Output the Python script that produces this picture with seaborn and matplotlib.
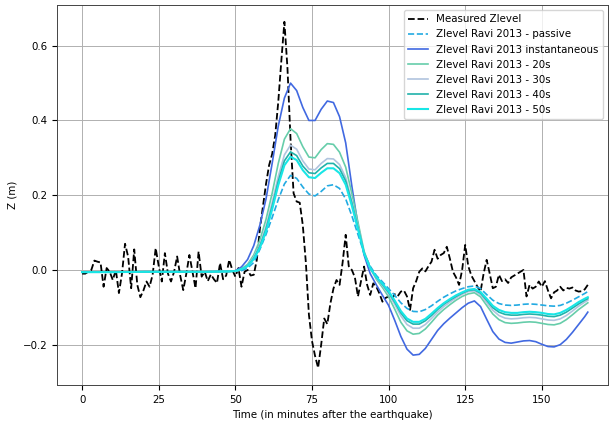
import matplotlib.pyplot as plt
import numpy as np
import seaborn as sns

plt.rcParams['font.size'] = 7.4

# measured tide gauge, 1 minute steps from 0 to 165
t_measured = np.arange(0, 166)
z_measured = [
    -0.010, -0.010, -0.005, 0.000, 0.025, 0.022, 0.020, -0.045, 0.005, -0.005,
    -0.027, 0.000, -0.062, -0.010, 0.070, 0.036, -0.049, 0.055, -0.040, -0.073,
    -0.055, -0.031, -0.045, -0.013, 0.058, 0.010, -0.031, 0.045, -0.010, -0.031,
    -0.005, 0.036, -0.015, -0.054, -0.010, 0.040, -0.005, -0.049, 0.049, -0.018,
    -0.005, -0.030, -0.012, -0.025, -0.035, 0.018, -0.025, -0.015, 0.027, 0.000,
    -0.018, 0.005, -0.045, -0.005, 0.000, -0.015, -0.013, 0.027, 0.110, 0.170,
    0.230, 0.280, 0.310, 0.360, 0.450, 0.560, 0.664, 0.540, 0.350, 0.205,
    0.183, 0.180, 0.120, 0.020, -0.120, -0.190, -0.230, -0.262, -0.200, -0.130,
    -0.145, -0.090, -0.050, -0.027, -0.040, 0.020, 0.094, 0.010, 0.000, -0.020,
    -0.071, -0.030, 0.009, -0.040, -0.067, -0.036, -0.045, -0.063, -0.085, -0.075,
    -0.071, -0.080, -0.065, -0.070, -0.058, -0.055, -0.071, -0.107, -0.049, -0.030,
    -0.005, 0.004, -0.004, 0.010, 0.022, 0.054, 0.030, 0.040, 0.045, 0.062,
    0.030, -0.005, -0.020, -0.040, 0.000, 0.067, 0.010, -0.015, -0.030, -0.045,
    -0.058, -0.010, 0.027, -0.010, -0.049, -0.045, -0.013, -0.030, -0.025, -0.035,
    -0.020, -0.015, -0.010, -0.005, 0.000, -0.071, -0.040, -0.050, -0.045, -0.031,
    -0.045, -0.030, -0.055, -0.076, -0.060, -0.055, -0.045, -0.055, -0.048, -0.050,
    -0.047, -0.055, -0.058, -0.057, -0.052, -0.040,
]

# model output times (minutes)
t_model = [0, 10, 20, 30, 40, 48, 50, 52, 54, 56, 58, 60, 62, 64, 66, 68, 70, 72,
           74, 76, 78, 80, 82, 84, 86, 88, 90, 92, 94, 96, 98, 100, 102, 104, 106,
           108, 110, 112, 114, 116, 118, 120, 122, 124, 126, 128, 130, 132, 134,
           136, 138, 140, 142, 144, 146, 148, 150, 152, 154, 156, 158, 160, 162,
           164, 165]

z_passive = [-0.006, -0.006, -0.005, -0.005, -0.005, -0.004, -0.003, -0.002, 0.005,
             0.020, 0.055, 0.095, 0.140, 0.188, 0.230, 0.253, 0.245, 0.222, 0.203,
             0.198, 0.210, 0.225, 0.228, 0.218, 0.190, 0.145, 0.095, 0.045, 0.010,
             -0.015, -0.032, -0.050, -0.068, -0.088, -0.103, -0.111, -0.112, -0.106,
             -0.096, -0.084, -0.073, -0.064, -0.056, -0.050, -0.045, -0.043, -0.050,
             -0.066, -0.081, -0.090, -0.094, -0.095, -0.094, -0.092, -0.091, -0.092,
             -0.094, -0.096, -0.097, -0.095, -0.089, -0.081, -0.072, -0.063, -0.058]
z_instant = [-0.006, -0.006, -0.005, -0.005, -0.005, -0.004, -0.002, 0.008, 0.028,
             0.065, 0.120, 0.190, 0.285, 0.385, 0.460, 0.500, 0.480, 0.435, 0.400,
             0.400, 0.430, 0.452, 0.448, 0.410, 0.340, 0.225, 0.120, 0.040, -0.010,
             -0.040, -0.068, -0.095, -0.135, -0.178, -0.212, -0.228, -0.226, -0.210,
             -0.186, -0.162, -0.144, -0.129, -0.115, -0.101, -0.089, -0.083, -0.098,
             -0.132, -0.165, -0.185, -0.194, -0.196, -0.193, -0.190, -0.189, -0.192,
             -0.199, -0.205, -0.206, -0.200, -0.186, -0.167, -0.146, -0.125, -0.113]
z_20s = [-0.006, -0.006, -0.005, -0.005, -0.005, -0.004, -0.003, 0.003, 0.015,
         0.040, 0.080, 0.135, 0.205, 0.285, 0.350, 0.378, 0.365, 0.330, 0.302,
         0.300, 0.322, 0.338, 0.336, 0.315, 0.275, 0.205, 0.128, 0.050, 0.005,
         -0.025, -0.047, -0.072, -0.105, -0.140, -0.163, -0.172, -0.170, -0.158,
         -0.140, -0.121, -0.106, -0.093, -0.081, -0.071, -0.064, -0.061, -0.072,
         -0.095, -0.118, -0.133, -0.141, -0.143, -0.142, -0.140, -0.139, -0.140,
         -0.143, -0.146, -0.147, -0.143, -0.133, -0.120, -0.106, -0.094, -0.088]
z_30s = [-0.006, -0.006, -0.005, -0.005, -0.005, -0.004, -0.003, 0.002, 0.012,
         0.034, 0.068, 0.117, 0.180, 0.250, 0.308, 0.334, 0.323, 0.292, 0.270,
         0.268, 0.285, 0.298, 0.297, 0.282, 0.247, 0.185, 0.117, 0.048, 0.005,
         -0.022, -0.042, -0.064, -0.092, -0.123, -0.146, -0.156, -0.156, -0.146,
         -0.130, -0.113, -0.098, -0.086, -0.075, -0.065, -0.058, -0.056, -0.066,
         -0.087, -0.108, -0.122, -0.129, -0.131, -0.130, -0.128, -0.127, -0.128,
         -0.131, -0.134, -0.135, -0.131, -0.122, -0.110, -0.097, -0.086, -0.081]
z_40s = [-0.006, -0.006, -0.005, -0.005, -0.005, -0.004, -0.003, 0.002, 0.011,
         0.031, 0.063, 0.109, 0.170, 0.237, 0.292, 0.316, 0.306, 0.278, 0.260,
         0.258, 0.273, 0.285, 0.285, 0.271, 0.238, 0.179, 0.113, 0.046, 0.005,
         -0.020, -0.039, -0.060, -0.086, -0.115, -0.136, -0.145, -0.145, -0.136,
         -0.122, -0.106, -0.092, -0.081, -0.071, -0.062, -0.055, -0.053, -0.062,
         -0.081, -0.101, -0.113, -0.119, -0.121, -0.121, -0.119, -0.118, -0.119,
         -0.121, -0.124, -0.125, -0.121, -0.113, -0.102, -0.091, -0.081, -0.077]
z_50s = [-0.006, -0.006, -0.005, -0.005, -0.005, -0.004, -0.003, 0.002, 0.010,
         0.029, 0.059, 0.103, 0.162, 0.227, 0.280, 0.303, 0.294, 0.267, 0.248,
         0.246, 0.260, 0.272, 0.272, 0.259, 0.228, 0.172, 0.109, 0.044, 0.005,
         -0.019, -0.037, -0.057, -0.082, -0.110, -0.130, -0.139, -0.139, -0.131,
         -0.117, -0.102, -0.089, -0.078, -0.068, -0.060, -0.053, -0.051, -0.059,
         -0.077, -0.096, -0.107, -0.113, -0.115, -0.115, -0.113, -0.112, -0.113,
         -0.115, -0.118, -0.119, -0.115, -0.107, -0.097, -0.086, -0.077, -0.073]

fig = plt.figure(figsize=(6.09, 4.21), dpi=100)
ax = fig.add_axes([0.0936, 0.0855, 0.9048, 0.9026])

sns.lineplot(x=t_measured, y=z_measured, ax=ax, color='black', linestyle='--',
             linewidth=1.3, label='Measured Zlevel')
sns.lineplot(x=t_model, y=z_passive, ax=ax, color='#22aae2', linestyle='--',
             linewidth=1.2, label='Zlevel Ravi 2013 - passive')
sns.lineplot(x=t_model, y=z_instant, ax=ax, color='royalblue', linewidth=1.2,
             label='Zlevel Ravi 2013 instantaneous')
sns.lineplot(x=t_model, y=z_20s, ax=ax, color='mediumaquamarine', linewidth=1.2,
             label='Zlevel Ravi 2013 - 20s')
sns.lineplot(x=t_model, y=z_30s, ax=ax, color='lightsteelblue', linewidth=1.2,
             label='Zlevel Ravi 2013 - 30s')
sns.lineplot(x=t_model, y=z_40s, ax=ax, color='lightseagreen', linewidth=1.2,
             label='Zlevel Ravi 2013 - 40s')
sns.lineplot(x=t_model, y=z_50s, ax=ax, color='#18e6e6', linewidth=1.5,
             label='Zlevel Ravi 2013 - 50s')

ax.set_xlim(-8.2, 171.6)
ax.set_ylim(-0.308, 0.709)
ax.set_xticks([0, 25, 50, 75, 100, 125, 150])
ax.set_yticks([-0.2, 0.0, 0.2, 0.4, 0.6])
ax.grid(True, color='#b0b0b0', linewidth=0.7)
for s in ax.spines.values():
    s.set_color('#444444')
    s.set_linewidth(0.7)
ax.set_xlabel('Time (in minutes after the earthquake)')
ax.set_ylabel('Z (m)')
ax.legend(loc='upper right', fontsize=7.4)
fig.savefig('out.png', dpi=100)
